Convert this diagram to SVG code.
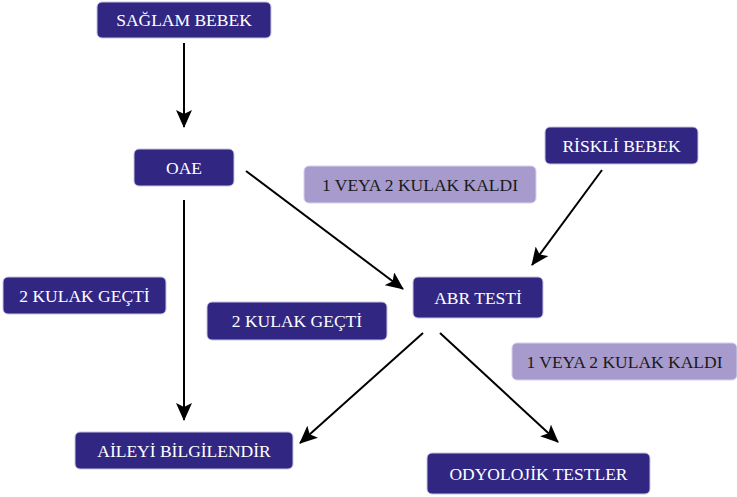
<svg xmlns="http://www.w3.org/2000/svg" width="737" height="497" viewBox="0 0 737 497">
<style>
.dark{fill:#312783;stroke:#c9c3e3;stroke-width:1}
.light{fill:#a79bcd;stroke:#d6d1ea;stroke-width:1}
text{font-family:'Times New Roman','Liberation Serif',Times,'DejaVu Serif',serif;font-size:17.5px;text-anchor:middle}
.tw{fill:#ffffff}
.tb{fill:#1a1a1a}
.c{stroke:#000;stroke-width:2;fill:none;marker-end:url(#ah)}
</style>
<defs>
<marker id="ah" markerUnits="userSpaceOnUse" markerWidth="18" markerHeight="16" refX="17" refY="8" orient="auto">
<path d="M0,0 L18,8 L0,16 L4,8 z" fill="#000"/>
</marker>
</defs>
<rect width="737" height="497" fill="#fff"/>
<g id="connectors">
<line class="c" x1="184" y1="43" x2="184" y2="127"/>
<line class="c" x1="246" y1="171" x2="403" y2="289"/>
<line class="c" x1="602" y1="170" x2="532" y2="265"/>
<line class="c" x1="184" y1="200" x2="184" y2="420"/>
<line class="c" x1="423" y1="333" x2="300" y2="443"/>
<line class="c" x1="440" y1="333" x2="558" y2="442"/>
</g>
<g id="saglam-bebek"><rect class="dark" x="97" y="2" width="174" height="36" rx="5"/><text class="tw" x="184" y="26">SAĞLAM BEBEK</text></g>
<g id="oae"><rect class="dark" x="134" y="149" width="100" height="37" rx="5"/><text class="tw" x="184" y="173.5">OAE</text></g>
<g id="kaldi-1"><rect class="light" x="304" y="166" width="232" height="37" rx="5"/><text class="tb" x="420" y="190.5">1 VEYA 2 KULAK KALDI</text></g>
<g id="riskli-bebek"><rect class="dark" x="545" y="127" width="153" height="37" rx="5"/><text class="tw" x="621.5" y="151.5">RİSKLİ BEBEK</text></g>
<g id="gecti-1"><rect class="dark" x="3" y="277" width="163" height="37" rx="5"/><text class="tw" x="84.5" y="301.5">2 KULAK GEÇTİ</text></g>
<g id="abr-testi"><rect class="dark" x="413" y="277" width="130" height="41" rx="5"/><text class="tw" x="478" y="303.5">ABR TESTİ</text></g>
<g id="gecti-2"><rect class="dark" x="207" y="302" width="180" height="38" rx="5"/><text class="tw" x="297" y="327">2 KULAK GEÇTİ</text></g>
<g id="kaldi-2"><rect class="light" x="512" y="343" width="225" height="37" rx="5"/><text class="tb" x="624.5" y="367.5">1 VEYA 2 KULAK KALDI</text></g>
<g id="aileyi-bilgilendir"><rect class="dark" x="75" y="432" width="218" height="37" rx="5"/><text class="tw" x="184" y="456.5">AİLEYİ BİLGİLENDİR</text></g>
<g id="odyolojik-testler"><rect class="dark" x="427" y="453" width="223" height="41" rx="5"/><text class="tw" x="538.5" y="479.5">ODYOLOJİK TESTLER</text></g>
</svg>
